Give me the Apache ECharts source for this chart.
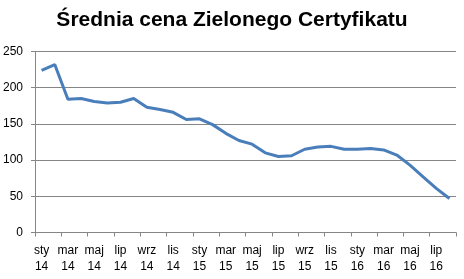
<!DOCTYPE html>
<html>
<head>
<meta charset="utf-8">
<script src="https://cdn.jsdelivr.net/npm/echarts@6/dist/echarts.min.js"></script>
<style>html,body{margin:0;padding:0;background:#fff;}#c{width:464px;height:279px;}</style>
</head>
<body>
<div id="c"></div>
<script>
const months = ['sty','lut','mar','kwi','maj','cze','lip','sie','wrz','paź','lis','gru'];
const years = ['14','15','16'];
const categories = [];
for (const y of years) for (const m of months) categories.push(m + '\n' + y);
categories.length = 32; // sty 14 .. sie 16
const prices = [224, 232, 184, 185, 181, 179, 180, 185, 173, 170, 166, 156,
                157, 149, 137, 127, 122, 110, 105, 106, 115, 118, 119, 115,
                115, 116, 114, 107, 93, 77, 61, 47];
const yTicks = {min: 0, max: 250, interval: 50};

const chart = echarts.init(document.getElementById('c'), null, {renderer: 'canvas'});
chart.setOption({
  animation: false,
  title: {
    text: 'Średnia cena Zielonego Certyfikatu',
    left: 'center', top: 5,
    textStyle: {fontFamily: 'Liberation Sans', fontWeight: 'bold', fontSize: 21, color: '#000'}
  },
  grid: {left: 32, right: 8, top: 51.5, bottom: 46.5},
  xAxis: {
    type: 'category',
    data: categories,
    boundaryGap: true,
    axisLine: {lineStyle: {color: '#868686', width: 1}},
    axisTick: {show: true, interval: 1, length: 4, lineStyle: {color: '#868686'}},
    axisLabel: {interval: 1, margin: 10, fontFamily: 'Liberation Sans', fontSize: 12, color: '#000', lineHeight: 16}
  },
  yAxis: {
    type: 'value',
    min: yTicks.min, max: yTicks.max, interval: yTicks.interval,
    axisLine: {show: true, lineStyle: {color: '#868686', width: 1}},
    axisTick: {show: true, length: 4, lineStyle: {color: '#868686'}},
    splitLine: {lineStyle: {color: '#868686', width: 1}},
    axisLabel: {margin: 12, fontFamily: 'Liberation Sans', fontSize: 12, color: '#000'}
  },
  series: [{
    type: 'line',
    data: prices,
    symbol: 'none',
    lineStyle: {color: '#4a7ebb', width: 3},
    itemStyle: {color: '#4a7ebb'}
  }]
});
</script>
</body>
</html>
